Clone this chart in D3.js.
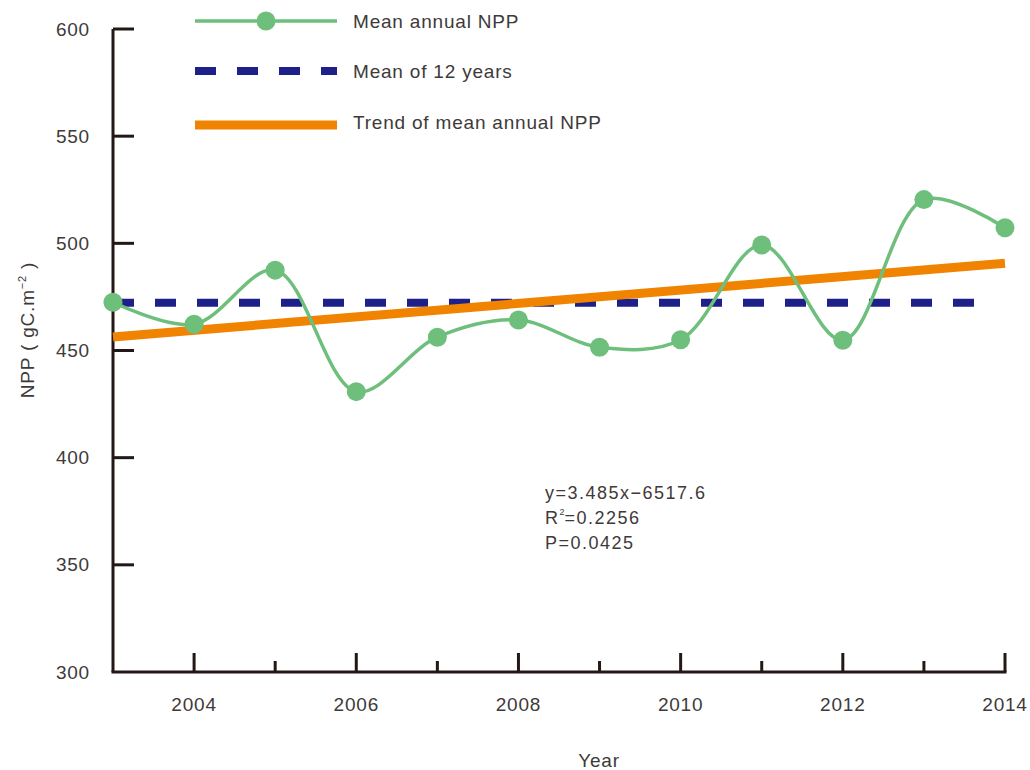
<!DOCTYPE html>
<html>
<head>
<meta charset="utf-8">
<script src="https://cdn.jsdelivr.net/npm/d3@7"></script>
<style>
  body { margin: 0; background: #fff; }
  svg { font-family: "Liberation Sans", Arial, sans-serif; }
</style>
</head>
<body>
<svg id="chart" width="1030" height="770"></svg>
<script>
// values
var years = [2003, 2004, 2005, 2006, 2007, 2008, 2009, 2010, 2011, 2012, 2013, 2014];
var npp = [472.5, 462.3, 487.5, 430.8, 456.2, 464.2, 451.5, 455.0, 499.2, 454.8, 520.4, 507.3];
var meanValue = 472.3;
var meanYears = [2003, 2013.65];
var trendYears = [2003, 2014];
var trendValues = [456.3, 490.7];
var yTicks = [300, 350, 400, 450, 500, 550, 600];
var xLabelYears = [2004, 2006, 2008, 2010, 2012, 2014];
var legendLabels = ['Mean annual NPP', 'Mean of 12 years', 'Trend of mean annual NPP'];
var statLines = ['y=3.485x\u22126517.6', 'R', 'P=0.0425'];

var colors = { green: '#6dbf7b', blue: '#1d2088', orange: '#f08300', axis: '#231815', text: '#3e3a39' };

var svg = d3.select('#chart');

var x = d3.scaleLinear().domain([2003, 2014]).range([113, 1005]);
var y = d3.scaleLinear().domain([300, 600]).range([672, 29]);

/**
 * draws the axes with inward ticks
 */
var drawAxes = function () {
    var g = svg.append('g');

    // y axis line and major ticks
    g.append('line')
        .attr('x1', x(2003)).attr('x2', x(2003))
        .attr('y1', y(600)).attr('y2', y(300))
        .attr('stroke', colors.axis).attr('stroke-width', 3);
    g.selectAll('.ytick').data(yTicks.slice(1)).enter().append('line')
        .attr('x1', x(2003)).attr('x2', x(2003) + 21)
        .attr('y1', function (d) { return y(d); })
        .attr('y2', function (d) { return y(d); })
        .attr('stroke', colors.axis).attr('stroke-width', 3);
    g.selectAll('.ylab').data(yTicks).enter().append('text')
        .attr('x', 90).attr('y', function (d) { return y(d); })
        .attr('dy', '0.35em').attr('text-anchor', 'end')
        .attr('font-size', 19).attr('letter-spacing', 0.8).attr('fill', colors.text)
        .text(function (d) { return d; });

    // x axis line and ticks (long at even years, short at odd years)
    g.append('line')
        .attr('x1', x(2003) - 1.5).attr('x2', x(2014) + 1.5)
        .attr('y1', y(300)).attr('y2', y(300))
        .attr('stroke', colors.axis).attr('stroke-width', 3);
    g.selectAll('.xtick').data(years.slice(1)).enter().append('line')
        .attr('x1', function (d) { return x(d); })
        .attr('x2', function (d) { return x(d); })
        .attr('y1', y(300))
        .attr('y2', function (d) { return y(300) - (d % 2 === 0 ? 19 : 11); })
        .attr('stroke', colors.axis).attr('stroke-width', 3);
    g.selectAll('.xlab').data(xLabelYears).enter().append('text')
        .attr('x', function (d) { return x(d); }).attr('y', 704)
        .attr('dy', '0.35em').attr('text-anchor', 'middle')
        .attr('font-size', 19).attr('letter-spacing', 0.8).attr('fill', colors.text)
        .text(function (d) { return d; });

    svg.append('text')
        .attr('x', 599).attr('y', 760).attr('dy', '0.35em')
        .attr('text-anchor', 'middle').attr('font-size', 19).attr('letter-spacing', 0.8)
        .attr('fill', colors.text)
        .text('Year');

    var yl = svg.append('text')
        .attr('transform', 'translate(34,330) rotate(-90)')
        .attr('text-anchor', 'middle').attr('font-size', 19).attr('letter-spacing', 0.8)
        .attr('fill', colors.text);
    yl.append('tspan').text('NPP ( gC.m');
    yl.append('tspan').attr('dy', -8).attr('font-size', 11).text('\u22122');
    yl.append('tspan').attr('dy', 8).text(' )');
};

drawAxes();

// mean of 12 years
svg.append('line')
    .attr('x1', x(meanYears[0])).attr('x2', x(meanYears[1]))
    .attr('y1', y(meanValue)).attr('y2', y(meanValue))
    .attr('stroke', colors.blue).attr('stroke-width', 8)
    .attr('stroke-dasharray', '21,21');

// trend line
svg.append('line')
    .attr('x1', x(trendYears[0])).attr('x2', x(trendYears[1]))
    .attr('y1', y(trendValues[0])).attr('y2', y(trendValues[1]))
    .attr('stroke', colors.orange).attr('stroke-width', 9);

// mean annual NPP curve
var line = d3.line()
    .x(function (d, i) { return x(years[i]); })
    .y(function (d) { return y(d); })
    .curve(d3.curveCatmullRom.alpha(0.5));

svg.append('path').datum(npp)
    .attr('d', line).attr('fill', 'none')
    .attr('stroke', colors.green).attr('stroke-width', 3.5);

svg.selectAll('.pt').data(npp).enter().append('circle')
    .attr('cx', function (d, i) { return x(years[i]); })
    .attr('cy', function (d) { return y(d); })
    .attr('r', 9.5).attr('fill', colors.green);

// legend
var legend = svg.append('g');
var lx1 = 195, lx2 = 337;
legend.append('line').attr('x1', lx1).attr('x2', lx2).attr('y1', 21).attr('y2', 21)
    .attr('stroke', colors.green).attr('stroke-width', 3.5);
legend.append('circle').attr('cx', 266).attr('cy', 21).attr('r', 9.5).attr('fill', colors.green);
legend.append('line').attr('x1', lx1).attr('x2', lx2).attr('y1', 71).attr('y2', 71)
    .attr('stroke', colors.blue).attr('stroke-width', 8).attr('stroke-dasharray', '21,21');
legend.append('line').attr('x1', lx1).attr('x2', lx2).attr('y1', 125).attr('y2', 125)
    .attr('stroke', colors.orange).attr('stroke-width', 9);
legend.selectAll('.ltext').data(legendLabels).enter().append('text')
    .attr('x', 353).attr('y', function (d, i) { return [21, 71, 122][i]; })
    .attr('dy', '0.35em').attr('font-size', 19).attr('letter-spacing', 0.8)
    .attr('fill', colors.text)
    .text(function (d) { return d; });

// regression stats
var stats = svg.append('g').attr('font-size', 18).attr('letter-spacing', 1.5).attr('fill', colors.text);
stats.append('text').attr('x', 545).attr('y', 493).attr('dy', '0.35em').text(statLines[0]);
var r2 = stats.append('text').attr('x', 545).attr('y', 518).attr('dy', '0.35em');
r2.append('tspan').text(statLines[1]);
r2.append('tspan').attr('dy', -9).attr('font-size', 9).attr('letter-spacing', 0).text('2');
r2.append('tspan').attr('dy', 9).text('=0.2256');
stats.append('text').attr('x', 545).attr('y', 543).attr('dy', '0.35em').text(statLines[2]);
</script>
</body>
</html>
